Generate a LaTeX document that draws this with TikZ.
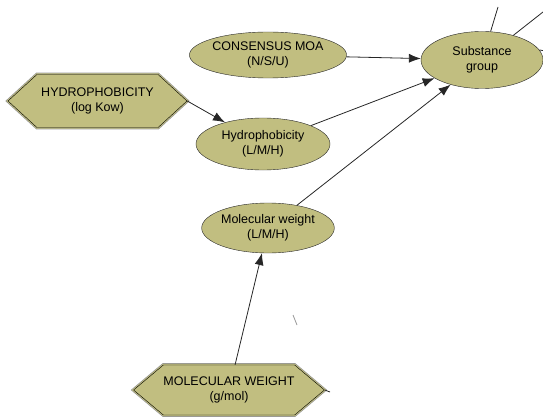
\documentclass[tikz,border=0pt]{standalone}
\usepackage{fontspec}
\setmainfont{Liberation Sans}
\usetikzlibrary{graphs}
\usetikzlibrary{arrows.meta}
\usetikzlibrary{shapes.geometric}
\usetikzlibrary{shapes.symbols}
\definecolor{nodefill}{RGB}{193,190,128}
\definecolor{edgegray}{RGB}{150,150,150}
\tikzset{
  enode/.style= {draw=black!85, fill=nodefill, ellipse, inner sep=0,
                 align=center, font=\fontsize{12.5}{15}\selectfont},
  hnode/.style= {signal, signal to=west and east, draw=black, fill=nodefill,
                 inner sep=0, align=center, font=\fontsize{12.5}{15}\selectfont,
                 preaction={draw=edgegray, line width=3.6pt},
                 preaction={draw=nodefill, line width=2.2pt}},
  link/.style= {draw=black!85, line width=0.8pt},
}

\begin{document}
\begin{tikzpicture}[x=1pt, y=-1pt, >={Latex[length=12pt,width=9pt]}]
  \useasboundingbox (0,0) rectangle (543,417);

  \node [enode, minimum width=142, minimum height=46] (cons) at (268,55) {CONSENSUS MOA\\(N/S/U)} ;
  \node [enode, minimum width=122, minimum height=57] (sub) at (482,60) {Substance\\group} ;
  \node [hnode, signal pointer angle=85, minimum width=179, minimum height=53] (hexh) at (97.5,101) {HYDROPHOBICITY\\(log Kow)} ;
  \node [enode, minimum width=134, minimum height=52] (hyd) at (263,144) {Hydrophobicity\\(L/M/H)} ;
  \node [enode, minimum width=130, minimum height=50] (mw) at (268,228) {Molecular weight\\(L/M/H)} ;
  \node [hnode, signal pointer angle=80, minimum width=178, minimum height=50] (hexm) at (229,390) {MOLECULAR WEIGHT\\(g/mol)} ;

  % links leaving the picture
  \coordinate (o1) at (498,7) ;
  \coordinate (o2) at (543,12) ;
  \coordinate (o3) at (545,51) ;
  \coordinate (o4) at (545,57) ;
  \coordinate (o5) at (330,392) ;
  \coordinate (t1) at (293,315) ;
  \coordinate (t2) at (297,325) ;

  \graph [edges={link}] {
    (cons) -> (sub) ;
    (hyd) -> (sub) ;
    (mw) -> (sub) ;
    (hexm) -> (mw) ;
  } ;
  \draw [link, ->] (hexh.east) -- (hyd) ;

  \draw [link] (sub) -- (o1) ;
  \draw [link] (sub) -- (o2) ;
  \draw [link] (sub.10) -- (o3) ;
  \draw [link] (sub.-2) -- (o4) ;
  \draw [link] (hexm.east) -- (o5) ;
  \draw [draw=edgegray, line width=0.8pt] (t1) -- (t2) ;
\end{tikzpicture}
\end{document}
